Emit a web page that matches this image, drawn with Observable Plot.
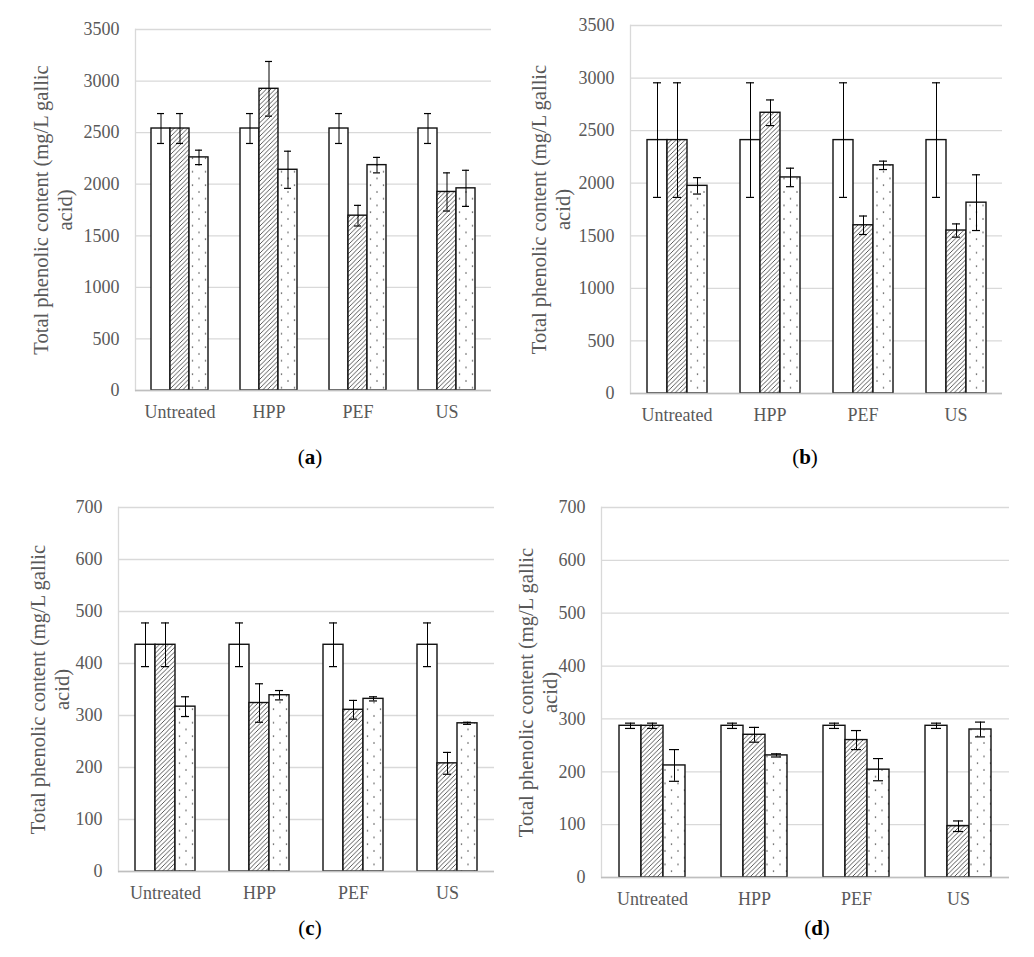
<!DOCTYPE html>
<html><head><meta charset="utf-8">
<script src="https://cdn.jsdelivr.net/npm/d3@7"></script>
<script src="https://cdn.jsdelivr.net/npm/@observablehq/plot@0.6"></script>
<style>
body{margin:0;background:#fff;}
#wrap{position:relative;width:1034px;height:957px;font-family:"Liberation Serif","Times New Roman",serif;background:#fff;overflow:hidden;}
.panel{position:absolute;}
.panel svg text{font-family:"Liberation Serif","Times New Roman",serif;}
.cap{position:absolute;font-size:21px;color:#000;transform:translate(-50%,-50%);white-space:nowrap;font-family:"Liberation Serif",serif;}
</style></head><body>
<svg width="0" height="0" style="position:absolute">
<defs>
<pattern id="hatch" patternUnits="userSpaceOnUse" width="4.5" height="4.5">
<rect width="4.5" height="4.5" fill="white"/>
<path d="M-1,1 l2,-2 M0,4.5 l4.5,-4.5 M3.5,5.5 l2,-2" stroke="#222" stroke-width="0.75"/>
</pattern>
<pattern id="dots" patternUnits="userSpaceOnUse" width="13" height="13.5">
<rect width="13" height="13.5" fill="white"/>
<circle cx="3" cy="3" r="0.8" fill="#555"/>
<circle cx="9.5" cy="9.75" r="0.8" fill="#555"/>
</pattern>
</defs></svg>
<div id="wrap"></div>
<script>
// ---------- data ----------
const categories = ["Untreated", "HPP", "PEF", "US"];
const seriesNames = ["Series 1", "Series 2", "Series 3"];
const seriesFills = ["white", "url(#hatch)", "url(#dots)"];
const yTitle = "Total phenolic content (mg/L gallic\nacid)";
const ticksAB = [0, 500, 1000, 1500, 2000, 2500, 3000, 3500];
const ticksCD = [0, 100, 200, 300, 400, 500, 600, 700];

// panel (a)
const a1 = [2540, 2540, 2540, 2540];
const a2 = [2540, 2925, 1695, 1925];
const a3 = [2260, 2140, 2185, 1960];
const aErr1 = [145, 145, 145, 145];
const aErr2 = [145, 265, 100, 185];
const aErr3 = [70, 180, 75, 175];
// panel (b)
const b1 = [2410, 2410, 2410, 2410];
const b2 = [2410, 2670, 1600, 1550];
const b3 = [1975, 2055, 2170, 1815];
const bErr1 = [545, 545, 545, 545];
const bErr2 = [545, 122, 88, 63];
const bErr3 = [78, 88, 40, 265];
// panel (c)
const c1 = [436, 436, 436, 436];
const c2 = [436, 324, 311, 208];
const c3 = [317, 339, 332, 285];
const cErr1 = [42, 42, 42, 42];
const cErr2 = [42, 37, 18, 21];
const cErr3 = [19, 9, 4, 2];
// panel (d)
const d1 = [287, 287, 287, 287];
const d2 = [287, 270, 260, 97];
const d3 = [212, 231, 204, 280];
const dErr1 = [5, 5, 5, 5];
const dErr2 = [5, 14, 18, 10];
const dErr3 = [30, 3, 21, 14];

function rows(means, errs) {
  const out = [];
  categories.forEach((cat, i) => {
    seriesNames.forEach((s, j) => {
      out.push({cat, series: s, v: means[j][i], e: errs[j][i]});
    });
  });
  return out;
}

const FONT = '"Liberation Serif", "Times New Roman", serif';
const wrap = document.getElementById("wrap");

function panel(cfg) {
  const data = rows(cfg.means, cfg.errs);
  const p = Plot.plot({
    width: cfg.width,
    height: cfg.height,
    marginLeft: cfg.ml, marginRight: cfg.mr, marginTop: cfg.mt, marginBottom: cfg.mb,
    style: {fontFamily: FONT, fontSize: "18px", color: "#595959", background: "white", overflow: "visible"},
    fx: {domain: categories, padding: 0, label: null},
    x: {domain: seriesNames, paddingInner: 0, paddingOuter: 0.74, axis: null},
    y: {domain: [cfg.ticks[0], cfg.ticks[cfg.ticks.length - 1]], label: null},
    color: {type: "ordinal", domain: seriesNames, range: seriesFills},
    marks: [
      Plot.gridY(cfg.ticks, {stroke: "#d9d9d9", strokeOpacity: 1, strokeWidth: 1.3}),
      Plot.frame({anchor: "left", fx: [categories[0]], stroke: "#d9d9d9", strokeWidth: 1.3}),
      Plot.barY(data, {fx: "cat", x: "series", y: "v", fill: "series", stroke: "#111", strokeWidth: 1.4}),
      Plot.ruleY([0], {stroke: "#bfbfbf", strokeWidth: 1.6}),
      Plot.ruleX(data, {fx: "cat", x: "series", y1: d => d.v - d.e, y2: d => d.v + d.e, stroke: "#000", strokeWidth: 1}),
      Plot.tickY(data, {fx: "cat", x: "series", y: d => d.v - d.e, inset: 6, stroke: "#000", strokeWidth: 1.2}),
      Plot.tickY(data, {fx: "cat", x: "series", y: d => d.v + d.e, inset: 6, stroke: "#000", strokeWidth: 1.2}),
      Plot.axisY(cfg.ticks, {tickSize: 0, tickPadding: 16, tickFormat: d => String(d), label: null, fill: "#595959", fontFamily: FONT, fontSize: 18, fontVariant: "normal"}),
      Plot.axisFx({anchor: "bottom", tickSize: 0, tickPadding: 15, label: null, fill: "#595959", fontFamily: FONT, fontSize: 18}),
      Plot.text([yTitle], {fx: [categories[0]], frameAnchor: "left", rotate: -90, dx: cfg.titleDx, textAnchor: "middle", lineAnchor: "top", lineHeight: 1.15, fontSize: 20.5, fontFamily: FONT, fill: "#595959"})
    ]
  });
  const div = document.createElement("div");
  div.className = "panel";
  div.style.left = cfg.left + "px";
  div.style.top = cfg.top + "px";
  div.appendChild(p);
  wrap.appendChild(div);
  const cap = document.createElement("div");
  cap.className = "cap";
  cap.style.left = cfg.capX + "px";
  cap.style.top = cfg.capY + "px";
  cap.innerHTML = "(<b>" + cfg.letter + "</b>)";
  wrap.appendChild(cap);
}

panel({means: [a1, a2, a3], errs: [aErr1, aErr2, aErr3], ticks: ticksAB, left: 0, top: 0, width: 517, height: 440, ml: 134, mr: 25, mt: 29, mb: 50, titleDx: -104, capX: 310, capY: 457, letter: "a"});
panel({means: [b1, b2, b3], errs: [bErr1, bErr2, bErr3], ticks: ticksAB, left: 517, top: 0, width: 517, height: 443, ml: 111, mr: 31, mt: 25, mb: 50, titleDx: -101, capX: 805, capY: 457, letter: "b"});
panel({means: [c1, c2, c3], errs: [cErr1, cErr2, cErr3], ticks: ticksCD, left: 0, top: 470, width: 517, height: 450, ml: 117, mr: 22, mt: 37, mb: 49, titleDx: -90, capX: 310, capY: 928, letter: "c"});
panel({means: [d1, d2, d3], errs: [dErr1, dErr2, dErr3], ticks: ticksCD, left: 505, top: 470, width: 529, height: 450, ml: 95, mr: 24, mt: 37, mb: 43, titleDx: -85, capX: 817, capY: 928, letter: "d"});
</script>
</body></html>
